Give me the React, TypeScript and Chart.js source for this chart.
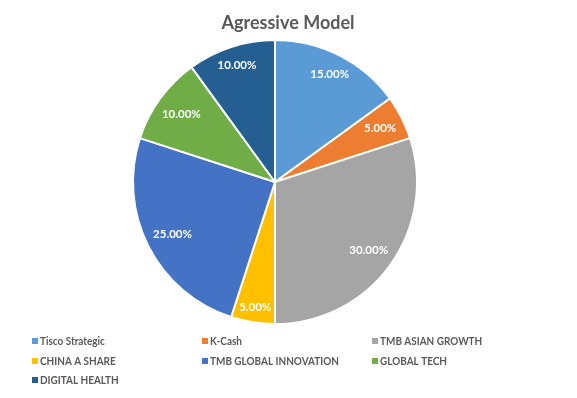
import React, { useEffect, useRef } from "react";
import { Chart, registerables } from "chart.js";

Chart.register(...registerables);

const title = "Agressive Model";
const categories = [
  "Tisco Strategic",
  "K-Cash",
  "TMB ASIAN GROWTH",
  "CHINA A SHARE",
  "TMB GLOBAL INNOVATION",
  "GLOBAL TECH",
  "DIGITAL HEALTH",
];
const weights = [15, 5, 30, 5, 25, 10, 10];
const colors = ["#5B9BD5", "#ED7D31", "#A5A5A5", "#FFC000", "#4472C4", "#70AD47", "#255E91"];

const FONT = "Lato, 'Liberation Sans', sans-serif";

const decorPlugin = {
  id: "decor",
  afterDatasetsDraw(chart: any) {
    const ctx = chart.ctx;
    const meta = chart.getDatasetMeta(0);
    const data = chart.data.datasets[0].data as number[];
    const total = data.reduce((a, b) => a + b, 0);
    ctx.save();
    ctx.fillStyle = "#FFFFFF";
    ctx.font = `bold 11.5px ${FONT}`;
    ctx.textAlign = "center";
    ctx.textBaseline = "middle";
    meta.data.forEach((arc: any, i: number) => {
      const p = arc.getProps(["x", "y", "startAngle", "endAngle", "outerRadius"], true);
      const mid = (p.startAngle + p.endAngle) / 2;
      const txt = ((data[i] / total) * 100).toFixed(2) + "%";
      const hw = ctx.measureText(txt).width / 2 + 1;
      const hh = 6;
      const R = p.outerRadius - 6;
      const c = Math.cos(mid);
      const s = Math.sin(mid);
      let lo = 0;
      let hi = R;
      for (let k = 0; k < 40; k++) {
        const d = (lo + hi) / 2;
        const cx = c * d;
        const cy = s * d;
        let m = 0;
        for (const sx of [-1, 1]) {
          for (const sy of [-1, 1]) {
            m = Math.max(m, Math.hypot(cx + sx * hw, cy + sy * hh));
          }
        }
        if (m > R) hi = d;
        else lo = d;
      }
      ctx.fillText(txt, p.x + c * lo, p.y + s * lo);
    });
    ctx.restore();
  },
  afterDraw(chart: any) {
    const ctx = chart.ctx;
    ctx.save();
    ctx.fillStyle = "#595959";
    ctx.font = `bold 18px ${FONT}`;
    ctx.textAlign = "center";
    ctx.textBaseline = "middle";
    ctx.fillText(title, 288, 23);

    const labels = chart.data.labels as string[];
    const bg = chart.data.datasets[0].backgroundColor as string[];
    const colX = [32, 202, 372];
    const rowY = [341, 361, 380];
    ctx.font = `bold 12px ${FONT}`;
    ctx.textAlign = "left";
    labels.forEach((lab, i) => {
      const cx = colX[i % 3];
      const cy = rowY[Math.floor(i / 3)];
      ctx.fillStyle = bg[i];
      ctx.fillRect(cx, cy - 3, 6, 6);
      ctx.fillStyle = "#595959";
      const w = ctx.measureText(lab).width;
      ctx.fillText(lab, cx + 8, cy + 0.5, w * 0.83);
    });
    ctx.restore();
  },
};

export default function App() {
  const ref = useRef<HTMLCanvasElement | null>(null);
  useEffect(() => {
    document.body.style.margin = "0";
    const chart = new Chart(ref.current as HTMLCanvasElement, {
      type: "pie",
      data: {
        labels: categories,
        datasets: [
          {
            data: weights,
            backgroundColor: colors,
            borderColor: "#FFFFFF",
            borderWidth: 2,
            hoverOffset: 0,
          },
        ],
      },
      options: {
        animation: false,
        responsive: false,
        events: [],
        layout: { padding: { left: 132, right: 159, top: 39, bottom: 73 } },
        plugins: {
          legend: { display: false },
          title: { display: false },
          tooltip: { enabled: false },
        },
      },
      plugins: [decorPlugin],
    });
    return () => chart.destroy();
  }, []);
  return (
    <div style={{ position: "fixed", left: 0, top: 0, width: 577, height: 398, background: "#fff" }}>
      <canvas ref={ref} width={577} height={398} style={{ width: 577, height: 398 }} />
    </div>
  );
}
